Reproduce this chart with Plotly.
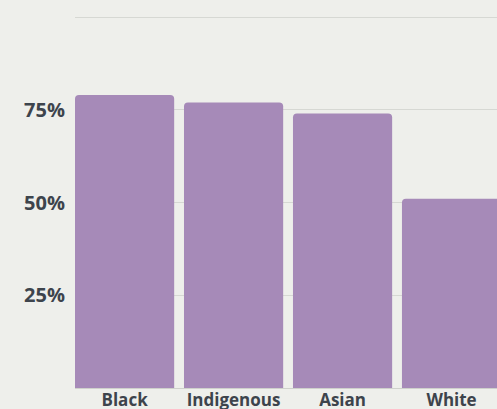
import plotly.graph_objects as go

categories = ["Black", "Indigenous", "Asian", "White"]
values = [79, 77, 74, 51]
tick_vals = [0, 25, 50, 75, 100]
tick_text = ["", "25%", "50%", "75%", ""]

fig = go.Figure(go.Bar(
    x=categories, y=values,
    marker=dict(color="#a68ab8", line=dict(width=0)),
    hoverinfo="skip",
))

fig.update_layout(
    width=497, height=409,
    margin=dict(l=75, r=0, t=16, b=21, autoexpand=False),
    paper_bgcolor="#eeefeb",
    plot_bgcolor="rgba(0,0,0,0)",
    bargap=0.09,
    barcornerradius=4,
    showlegend=False,
)
fig.update_xaxes(
    range=[-0.455, 3.417],
    showgrid=False, zeroline=False,
    showline=True, linecolor="#cfd1cc", linewidth=1,
    ticks="", automargin=False, ticklabelstandoff=-3,
    tickfont=dict(family="Open Sans", size=17, color="#3d444c", weight="bold"),
)
fig.update_yaxes(
    range=[0, 100.3],
    tickvals=tick_vals, ticktext=tick_text,
    showgrid=True, gridcolor="#d6d8d3", gridwidth=1,
    zeroline=False, showline=False, ticks="",
    automargin=False, ticklabelstandoff=9,
    tickfont=dict(family="Open Sans", size=20, color="#3d444c", weight="bold"),
)

fig.write_html(
    "out.html",
    config={"displayModeBar": False},
    post_script="document.body.style.margin='0';document.body.style.overflow='hidden';",
)
